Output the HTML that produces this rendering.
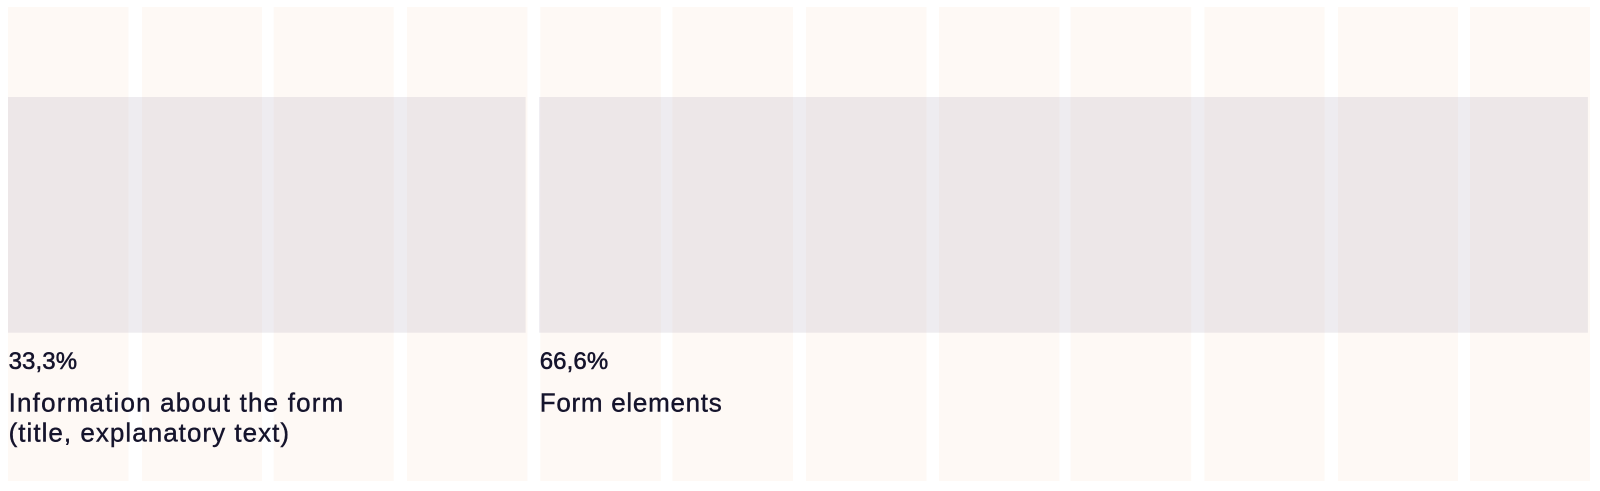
<!DOCTYPE html>
<html lang="en">
<head>
<meta charset="utf-8">
<title>Form layout proportions</title>
<style>
html,body{margin:0;padding:0;background:#fff;width:1600px;height:491px;overflow:hidden}
svg{display:block}
text{font-family:"Liberation Sans",sans-serif;fill:#15142c;stroke:#15142c}
.pct{font-size:24px;letter-spacing:.1px;stroke-width:.55px}
.desc{font-size:26px;letter-spacing:1.03px;stroke-width:.4px}
#labels text:nth-child(2){letter-spacing:1.19px}
#labels text:nth-child(5){letter-spacing:.72px}
</style>
</head>
<body>
<svg id="chart" width="1600" height="491" viewBox="0 0 1600 491" xmlns="http://www.w3.org/2000/svg">
<g fill="#fef9f5">
<rect x="8" y="7" width="120.5" height="474"/>
<rect x="142" y="7" width="120" height="474"/>
<rect x="273.7" y="7" width="120" height="474"/>
<rect x="407" y="7" width="120.4" height="474"/>
<rect x="540.3" y="7" width="120.6" height="474"/>
<rect x="672.4" y="7" width="120.6" height="474"/>
<rect x="806" y="7" width="120.5" height="474"/>
<rect x="939" y="7" width="120.4" height="474"/>
<rect x="1070.6" y="7" width="120.6" height="474"/>
<rect x="1204.4" y="7" width="120.2" height="474"/>
<rect x="1338" y="7" width="120" height="474"/>
<rect x="1470" y="7" width="120" height="474"/>
</g>
<g id="bars"></g>
<g id="labels"></g>
</svg>
<script>
const shares = [33.3, 66.6];
const shareLabels = ["33,3%", "66,6%"];
const descriptions = [
  ["Information about the form", "(title, explanatory text)"],
  ["Form elements"]
];

const NS = "http://www.w3.org/2000/svg";
const originX = 8;
const gutter = 13.5;
const trackPerPercent = 15.95;
function xStart(cumulative) { return originX + cumulative * trackPerPercent; }
function barWidth(share) { return share * trackPerPercent - gutter; }

const barsGroup = document.getElementById("bars");
const labelsGroup = document.getElementById("labels");
let cumulative = 0;
shares.forEach(function (share, i) {
  const x = xStart(cumulative);
  const bar = document.createElementNS(NS, "rect");
  
  
  bar.setAttribute("x", x);
  bar.setAttribute("y", 97);
  bar.setAttribute("width", barWidth(share));
  bar.setAttribute("height", 235.7);
  bar.setAttribute("fill", "rgba(172,160,178,.2)");
  barsGroup.appendChild(bar);

  const pct = document.createElementNS(NS, "text");
  
  
  pct.setAttribute("class", "pct");
  pct.setAttribute("x", x + 0.6);
  pct.setAttribute("y", 369);
  pct.textContent = shareLabels[i];
  labelsGroup.appendChild(pct);

  descriptions[i].forEach(function (line, j) {
    const t = document.createElementNS(NS, "text");
    
    
    t.setAttribute("class", "desc");
    t.setAttribute("x", x + 0.6);
    t.setAttribute("y", 411.7 + j * 30);
    t.textContent = line;
    labelsGroup.appendChild(t);
  });
  cumulative += share;
});
</script>
</body>
</html>
